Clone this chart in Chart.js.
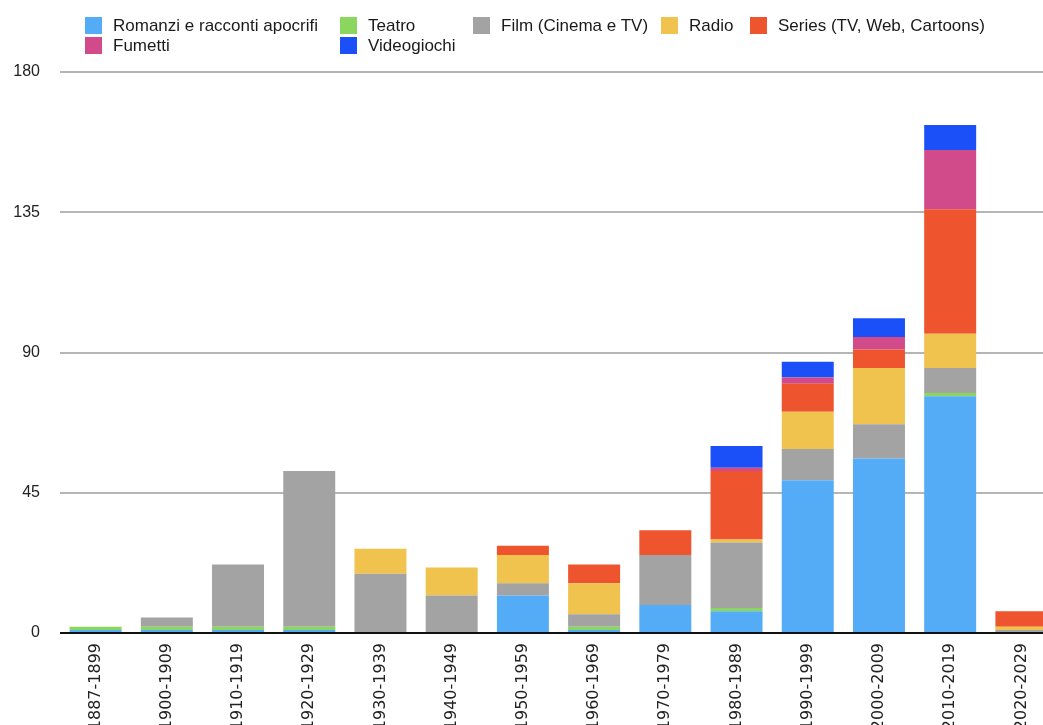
<!DOCTYPE html>
<html>
<head>
<meta charset="utf-8">
<script src="https://cdn.jsdelivr.net/npm/chart.js@4"></script>
<style>
  html, body { margin: 0; padding: 0; background: #fff; overflow: hidden; }
  .wrap { position: relative; width: 1060px; height: 735px; }
  .legend {
    position: absolute; left: 85px; top: 17px;
    display: grid; grid-template-columns: 255px 133px 188px 89px auto;
    row-gap: 3px;
    font-family: "Liberation Sans", Arial, sans-serif; font-size: 17px; color: #1a1a1a;
  }
  .legend .item { display: flex; align-items: center; height: 17px; white-space: nowrap; }
  .legend .box { width: 17px; height: 17px; margin-right: 11px; flex: none; }
</style>
</head>
<body>
<div class="wrap">
  <canvas id="chart"></canvas>
  <div class="legend" id="legend"></div>
</div>
<script>
const labels = ['1887-1899', '1900-1909', '1910-1919', '1920-1929', '1930-1939', '1940-1949', '1950-1959',
                '1960-1969', '1970-1979', '1980-1989', '1990-1999', '2000-2009', '2010-2019', '2020-2029'];

const romanzi  = [1, 1, 1, 1, 0, 0, 12, 1, 9, 7, 49, 56, 76, 0];
const teatro   = [1, 1, 1, 1, 0, 0, 0, 1, 0, 1, 0, 0, 1, 0];
const film     = [0, 3, 20, 50, 19, 12, 4, 4, 16, 21, 10, 11, 8, 1];
const radio    = [0, 0, 0, 0, 8, 9, 9, 10, 0, 1, 12, 18, 11, 1];
const series   = [0, 0, 0, 0, 0, 0, 3, 6, 8, 22, 9, 6, 40, 5];
const fumetti  = [0, 0, 0, 0, 0, 0, 0, 0, 0, 1, 2, 4, 19, 0];
const videogiochi = [0, 0, 0, 0, 0, 0, 0, 0, 0, 7, 5, 6, 8, 0];

const yTicks = [0, 45, 90, 135, 180];

const series_list = [
    { label: 'Romanzi e racconti apocrifi', data: romanzi, color: '#55ACF6' },
    { label: 'Teatro', data: teatro, color: '#8BD65F' },
    { label: 'Film (Cinema e TV)', data: film, color: '#A3A3A3' },
    { label: 'Radio', data: radio, color: '#F0C24E' },
    { label: 'Series (TV, Web, Cartoons)', data: series, color: '#EE552E' },
    { label: 'Fumetti', data: fumetti, color: '#D14A89' },
    { label: 'Videogiochi', data: videogiochi, color: '#1B50F8' },
];

// html legend, laid out as a grid like the original
const legendEl = document.getElementById('legend');
series_list.forEach(s => {
    const item = document.createElement('div');
    item.className = 'item';
    const box = document.createElement('span');
    box.className = 'box';
    box.style.background = s.color;
    const txt = document.createElement('span');
    txt.textContent = s.label;
    item.appendChild(box);
    item.appendChild(txt);
    legendEl.appendChild(item);
});

const ctx = document.getElementById('chart').getContext('2d');
new Chart(ctx, {
    type: 'bar',
    data: {
        labels: labels,
        datasets: series_list.map(s => ({
            label: s.label,
            data: s.data,
            backgroundColor: s.color,
            borderWidth: 0,
            barPercentage: 0.73,
            categoryPercentage: 1,
        })),
    },
    options: {
        responsive: true,
        maintainAspectRatio: false,
        animation: false,
        layout: { padding: { top: 72, left: 13, right: 3, bottom: 5 } },
        plugins: {
            legend: { display: false },
            tooltip: { enabled: false },
        },
        scales: {
            x: {
                stacked: true,
                afterFit: axis => { axis.height = 97; },
                grid: { display: false, drawTicks: false },
                border: { display: false },
                ticks: {
                    autoSkip: false,
                    minRotation: 90,
                    maxRotation: 90,
                    padding: 10,
                    color: '#222',
                    font: { family: 'DejaVu Sans', size: 16 },
                },
            },
            y: {
                stacked: true,
                min: 0,
                max: 180,
                afterBuildTicks: axis => { axis.ticks = yTicks.map(v => ({ value: v })); },
                afterFit: axis => { axis.width = 47; },
                grid: {
                    drawTicks: false,
                    lineWidth: 2,
                    color: c => (c.tick && c.tick.value === 0 ? '#111' : '#B5B5B5'),
                },
                border: { display: false },
                ticks: {
                    padding: 20,
                    color: '#222',
                    font: { family: 'Liberation Sans', size: 16 },
                },
            },
        },
    },
});
</script>
</body>
</html>
